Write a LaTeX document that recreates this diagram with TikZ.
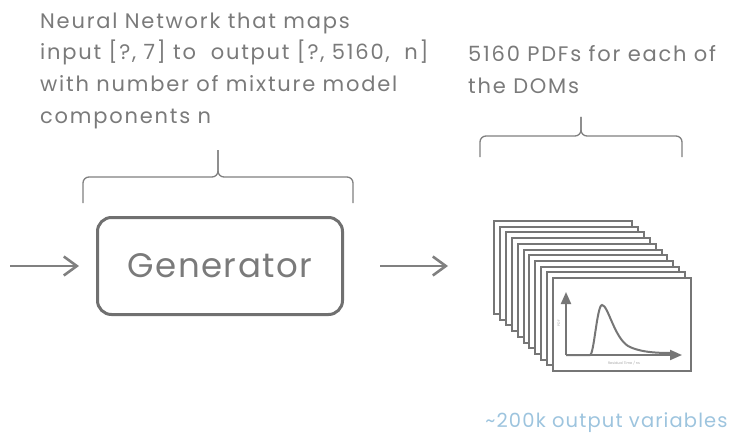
\documentclass[tikz,border=0pt]{standalone}
\usepackage{fontspec}
\setmainfont{Poppins}
\usetikzlibrary{positioning,arrows.meta}
\definecolor{txtgray}{HTML}{7A7A7A}
\definecolor{linegray}{HTML}{808080}
\definecolor{boxgray}{HTML}{707070}
\definecolor{cardgray}{HTML}{767676}
\definecolor{varblue}{HTML}{9DC4DE}

\begin{document}
\begin{tikzpicture}[x=1pt, y=-1pt,
	txt/.style={text=txtgray, font=\fontsize{21}{31.7}\selectfont\addfontfeature{LetterSpace=8.5}, align=left, inner sep=0, anchor=north west},
	gbox/.style={draw=boxgray, line width=3pt, rounded corners=14pt, minimum width=245pt, minimum height=97pt, text=txtgray, font=\fontsize{34}{40}\selectfont\addfontfeature{LetterSpace=4.5}},
	arr/.style={draw=linegray, line width=2.6pt, -{Straight Barb[length=13pt,width=19pt]}},
	brace/.style={draw=linegray, line width=1.3pt, rounded corners=6pt},
	card/.style={draw=cardgray, fill=white, line width=2pt, minimum width=138pt, minimum height=93pt, anchor=north west, inner sep=0},
	ax/.style={draw=cardgray, line width=2pt, -{Triangle[length=12pt,width=10pt]}},
	tiny/.style={text=linegray!70, font=\fontsize{3.5}{4}\selectfont, inner sep=0}]
			\useasboundingbox (0,0) rectangle (741,433);

			\node[txt] (net) at (40,12.5) {Neural Network that maps\\input [?, 7] to\ \ output [?, 5160,\ \ n]\\with number of mixture model\\components n};
			\node[txt] (pdfs) at (468,45.5) {5160 PDFs for each of\\the DOMs};

			\node[gbox] (gen) at (220,266) {Generator};
			\coordinate (in) at (10,266);
			\coordinate (out) at (448,266);

			\foreach \i in {0,...,10}
				\node[card] (c\i) at ({493+5.9*\i},{220+5.7*\i}) {};

			\node[text=varblue, font=\fontsize{19.5}{25}\selectfont\addfontfeature{LetterSpace=5.8}, inner sep=0] (vars)[below=40pt of c10, xshift=-15.5pt] {\textasciitilde200k output variables};

			\path
				(in) edge[arr, shorten >=17pt] (gen)
				(gen) edge[arr, shorten <=36pt] (out)
			;

			\draw[brace] (83,203) -- (83,177) -- (218,177) -- (218,150);
			\draw[brace] (353,203) -- (353,177) -- (218,177) -- (218,150);
			\draw[brace] (480,157) -- (480,136) -- (581,136) -- (581,117);
			\draw[brace] (682,157) -- (682,136) -- (581,136) -- (581,117);

			\coordinate (o) at ([shift={(14,78)}]c10.north west);
			\begin{scope}[shift={(o)}]
				\draw[ax] (0,0) -- (0,-63);
				\draw[ax] (0,0) -- (116,0);
				\draw[draw=cardgray, line width=2pt] (0,0) -- (24,0) .. controls (28,0) and (31,-50) .. (36,-50) .. controls (42,-50) and (48,-18) .. (62,-9) .. controls (75,-2) and (95,-2) .. (107,-2);
				\node[tiny, rotate=90] (ylab) at (-7,-32) {PDF};
				\node[tiny] (xlab) at (58,8) {Residual Time / ns};
			\end{scope}
		\end{tikzpicture}
\end{document}
